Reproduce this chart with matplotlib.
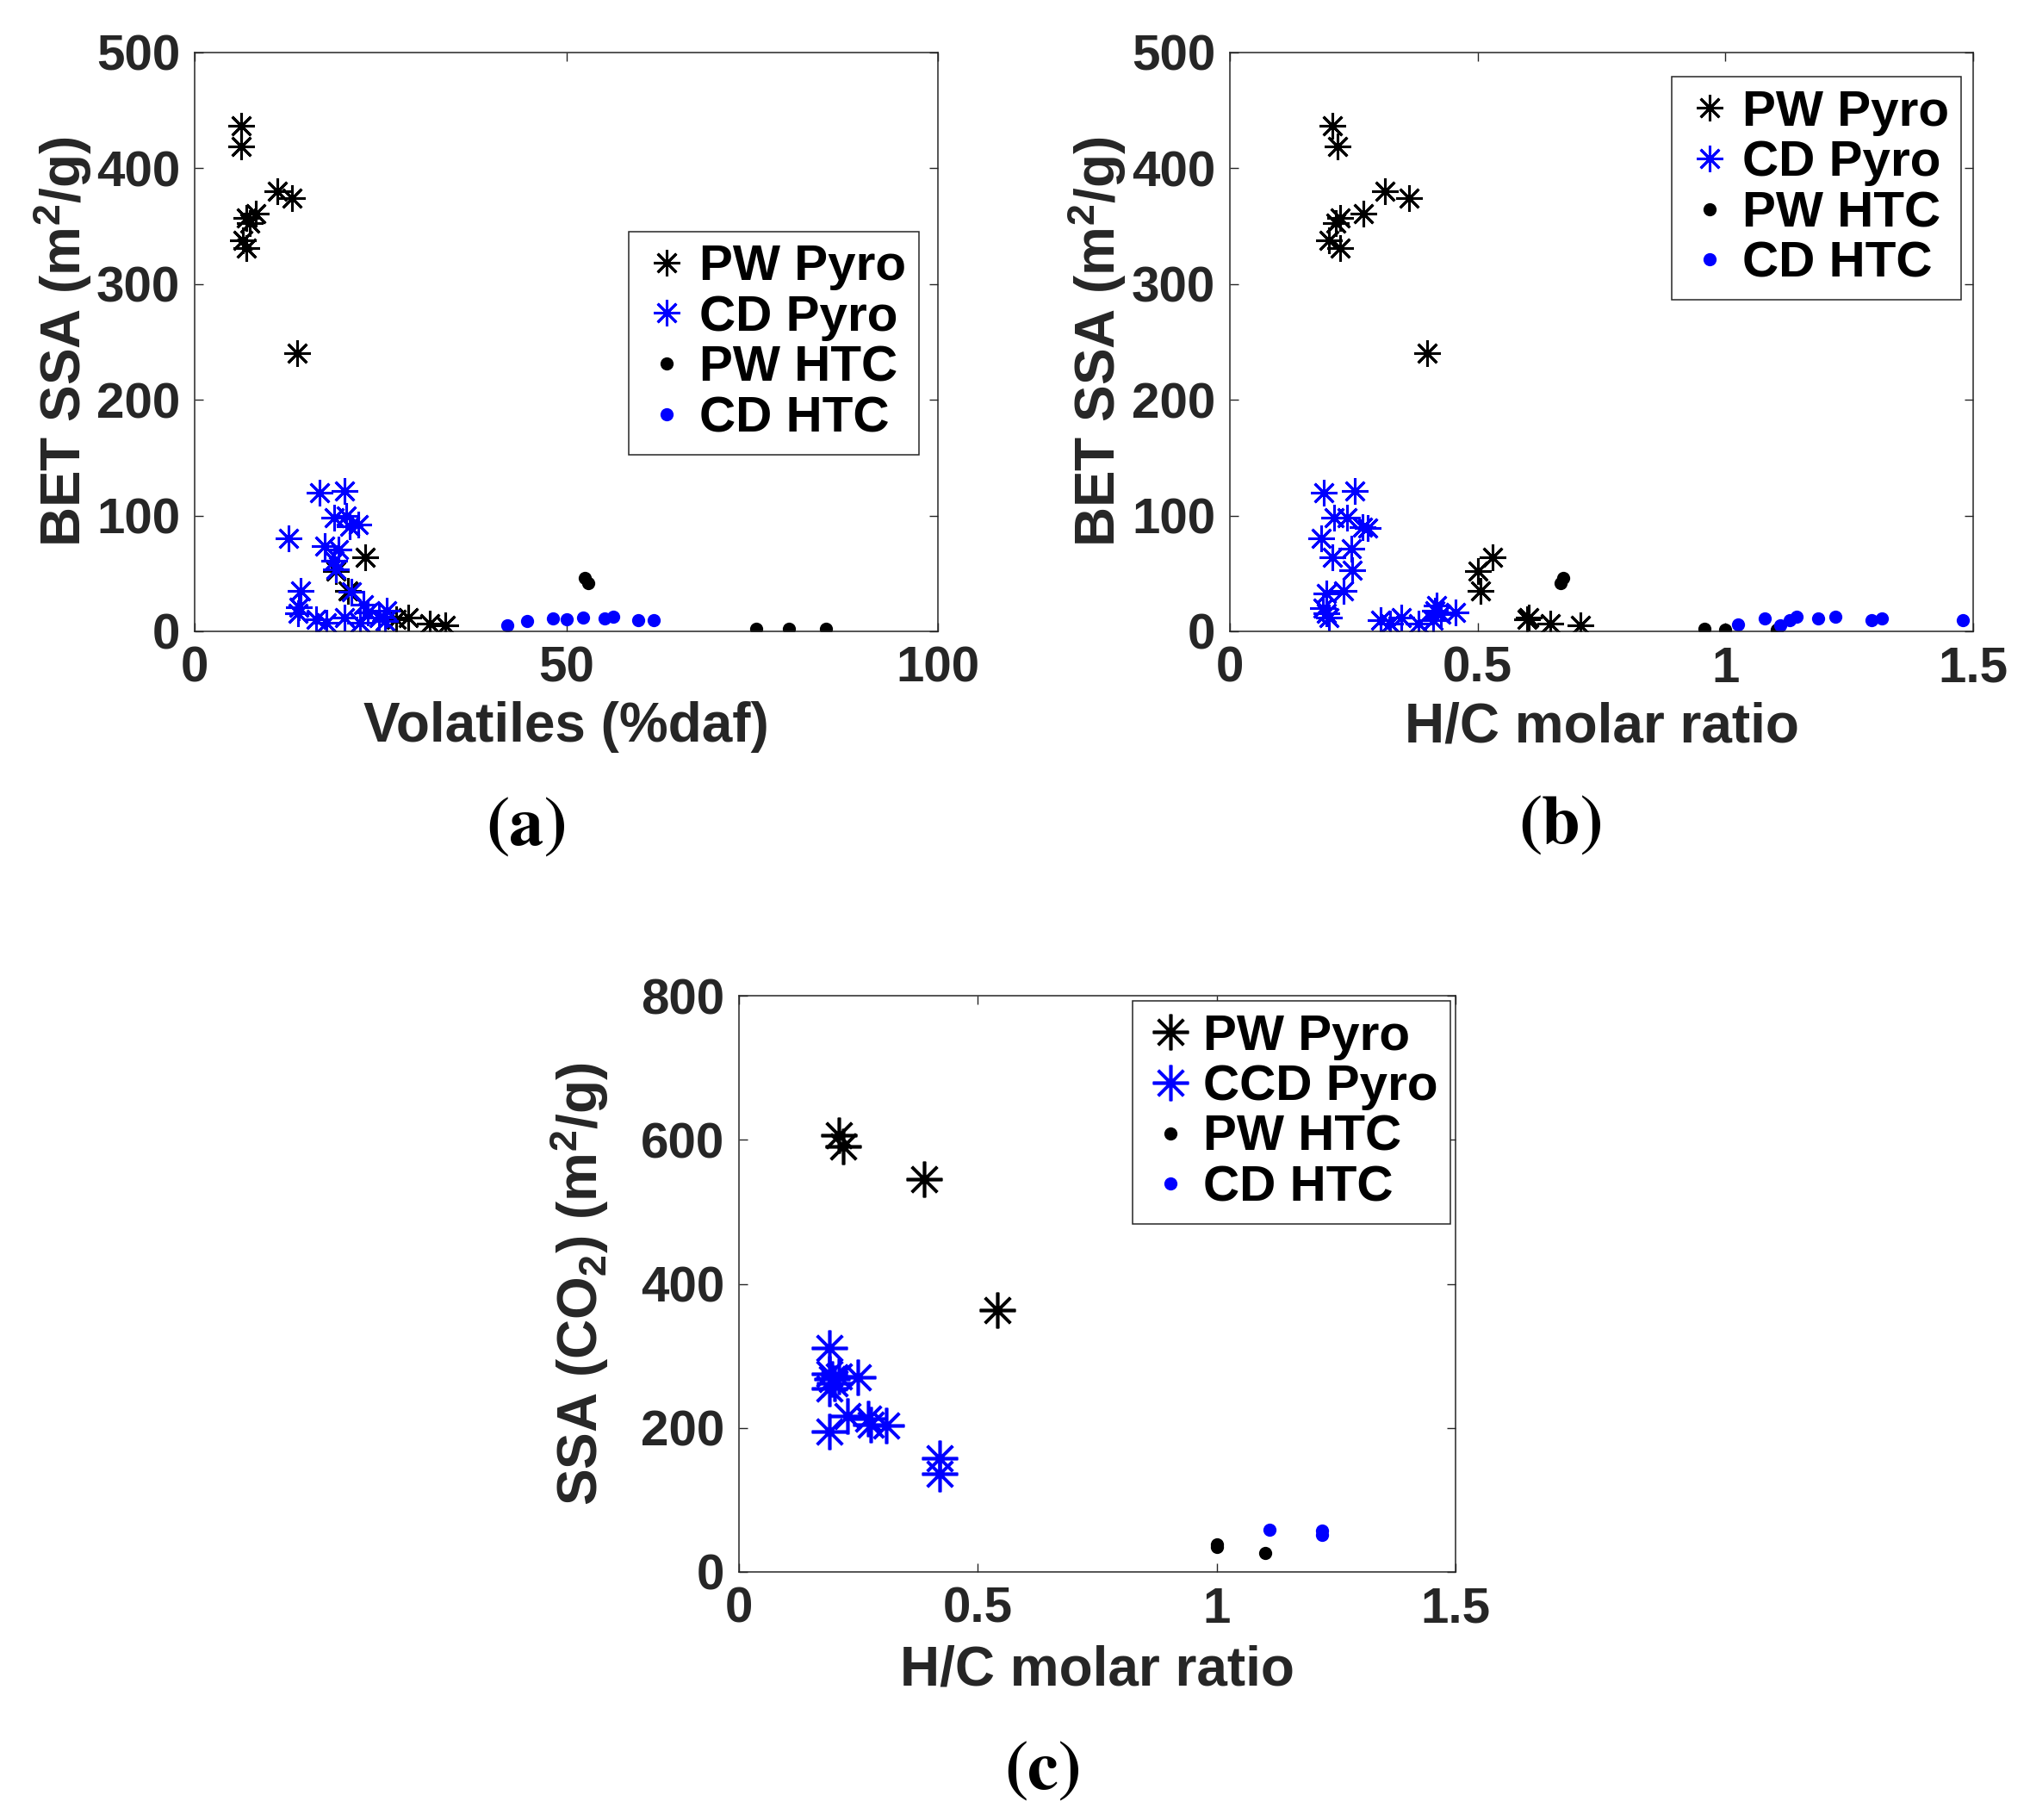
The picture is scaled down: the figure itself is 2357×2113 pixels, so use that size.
import matplotlib
matplotlib.use("Agg")
import matplotlib.pyplot as plt

plt.rcParams['font.family'] = ['Liberation Sans', 'DejaVu Sans']
plt.rcParams['font.weight'] = 'bold'
plt.rcParams['mathtext.fontset'] = 'custom'
plt.rcParams['mathtext.bf'] = 'Liberation Sans:bold'
plt.rcParams['mathtext.rm'] = 'Liberation Sans:bold'
plt.rcParams['mathtext.default'] = 'bf'

# panel (a) / (b): BET SSA
pw_pyro_ssa = [437, 419, 380, 374, 361, 357, 353, 338, 331, 240, 64, 52, 35, 10.5, 12, 7, 5.5]
pw_pyro_vol = [6.3, 6.3, 11.1, 13.1, 8.2, 7.0, 7.4, 6.5, 7.0, 13.8, 22.9, 19.0, 20.6, 27.1, 28.7, 31.6, 33.7]
pw_pyro_hc = [0.207, 0.218, 0.313, 0.362, 0.269, 0.223, 0.214, 0.200, 0.223, 0.398, 0.530, 0.500, 0.505,
              0.600, 0.603, 0.647, 0.707]

cd_pyro_vol = [16.8, 20.2, 18.8, 20.4, 20.9, 22.0, 12.6, 17.5, 19.4, 18.8, 19.0, 14.3, 14.0, 13.9, 16.3,
               17.7, 20.2, 21.1, 22.7, 22.3, 23.3, 24.8, 25.8, 25.6]
cd_pyro_ssa_a = [120, 121, 98, 100, 90.5, 92, 80, 73.5, 71, 61, 53.5, 35, 20.6, 15.7, 10.5,
                 7.4, 12, 34, 22.8, 7.4, 16.6, 12, 18, 9]
cd_pyro_hc = [0.189, 0.252, 0.211, 0.236, 0.267, 0.278, 0.185, 0.245, 0.207, 0.247, 0.229, 0.194, 0.188,
              0.194, 0.200, 0.304, 0.324, 0.346, 0.380, 0.411, 0.417, 0.414, 0.426, 0.455]
cd_pyro_ssa_b = [120, 121, 98, 98, 90, 89.5, 80, 71.7, 64, 53, 34.8, 33, 20,
                 15.4, 11.7, 10, 7, 11.7, 7, 10, 22.5, 18, 15, 16]

pw_htc_vol = [52.5, 53.0, 75.5, 79.9, 84.9]
pw_htc_ssa_a = [46, 42, 2, 2, 2]
pw_htc_hc = [0.672, 0.668, 0.958, 1.0, 1.103]
pw_htc_ssa_b = [46, 42, 2, 1.2, 1.2]

cd_htc_vol = [42.1, 44.7, 48.2, 50.0, 52.3, 55.1, 56.3, 59.7, 61.8]
cd_htc_ssa_a = [5.5, 9.2, 11.2, 10.7, 11.9, 11.2, 12.9, 9.9, 9.4]
cd_htc_hc = [1.026, 1.08, 1.11, 1.13, 1.143, 1.187, 1.222, 1.295, 1.315, 1.479]
cd_htc_ssa_b = [6.2, 11.2, 5, 10, 12.4, 11.2, 12.9, 9.5, 11.2, 10]

# panel (c): CO2 SSA
pw_pyro_hc_c = [0.210, 0.218, 0.388, 0.540]
pw_pyro_co2 = [606, 591, 545, 363]
ccd_pyro_hc_c = [0.19, 0.19, 0.195, 0.20, 0.19, 0.21, 0.248, 0.227, 0.271, 0.276, 0.308, 0.19, 0.42, 0.42]
ccd_pyro_co2 = [311, 275, 268, 262, 255, 272, 270, 216, 213, 205, 203, 195, 158, 136]
pw_htc_hc_c = [1.0, 1.0, 1.101]
pw_htc_co2 = [38, 35, 26]
cd_htc_hc_c = [1.110, 1.221, 1.221]
cd_htc_co2 = [58, 57, 52]

labels_ab = ['PW Pyro', 'CD Pyro', 'PW HTC', 'CD HTC']
labels_c = ['PW Pyro', 'CCD Pyro', 'PW HTC', 'CD HTC']

GRAY = '#262626'
STAR = (8, 2, 0)
FS = 42

W, H = 2357, 2113
fig = plt.figure(figsize=(W / 100, H / 100), dpi=100)


def px_axes(left, top, right, bottom):
    return fig.add_axes([left / W, 1 - bottom / H, (right - left) / W, (bottom - top) / H])


def draw(ax, series, star_ms, star_lw):
    for x, y, kind, color, lab in series:
        if kind == 'star':
            ax.plot(x, y, linestyle='none', marker=STAR, ms=star_ms, mew=star_lw,
                    color=color, label=lab)
        else:
            ax.plot(x, y, linestyle='none', marker='o', ms=11, mew=0,
                    color=color, label=lab)


def style(ax, xlim, xticks, xticklabels, ylim, yticks):
    ax.set_xlim(xlim)
    ax.set_ylim(ylim)
    ax.set_xticks(xticks)
    ax.set_xticklabels(xticklabels)
    ax.set_yticks(yticks)
    ax.tick_params(direction='in', length=7, width=1, colors=GRAY, labelsize=FS,
                   top=True, right=True)
    ax.tick_params(axis='y', pad=12)
    ax.tick_params(axis='x', pad=12)
    for s in ax.spines.values():
        s.set_color(GRAY)
        s.set_linewidth(1.1)


def legend(ax, labels, anchor):
    lg = ax.legend(labels=labels, loc='upper right', bbox_to_anchor=anchor, fontsize=FS,
                   frameon=True, fancybox=False, framealpha=1, edgecolor=GRAY,
                   labelspacing=0.08, borderpad=0.25, handlelength=1.0, handletextpad=0.15,
                   borderaxespad=0, numpoints=1)
    lg.get_frame().set_linewidth(1.1)
    for t in lg.get_texts():
        t.set_fontweight('bold')


# (a)
ax1 = px_axes(226, 61, 1089, 733)
draw(ax1, [(pw_pyro_vol, pw_pyro_ssa, 'star', 'black', labels_ab[0]),
           (cd_pyro_vol, cd_pyro_ssa_a, 'star', 'blue', labels_ab[1]),
           (pw_htc_vol, pw_htc_ssa_a, 'dot', 'black', labels_ab[2]),
           (cd_htc_vol, cd_htc_ssa_a, 'dot', 'blue', labels_ab[3])], 22, 2.2)
style(ax1, (0, 100), [0, 50, 100], ['0', '50', '100'], (0, 500), [0, 100, 200, 300, 400, 500])
ax1.set_xlabel('Volatiles (%daf)', fontsize=46, color=GRAY, fontweight='bold')
ax1.set_ylabel(r'BET SSA (m$^2$/g)', fontsize=46, color=GRAY, fontweight='bold')
ax1.xaxis.set_label_coords(0.5, -0.121)
ax1.yaxis.set_label_coords(-0.135, 0.5)
legend(ax1, labels_ab, (0.974, 0.691))

# (b)
ax2 = px_axes(1428, 61, 2291, 733)
draw(ax2, [(pw_pyro_hc, pw_pyro_ssa, 'star', 'black', labels_ab[0]),
           (cd_pyro_hc, cd_pyro_ssa_b, 'star', 'blue', labels_ab[1]),
           (pw_htc_hc, pw_htc_ssa_b, 'dot', 'black', labels_ab[2]),
           (cd_htc_hc, cd_htc_ssa_b, 'dot', 'blue', labels_ab[3])], 22, 2.2)
style(ax2, (0, 1.5), [0, 0.5, 1, 1.5], ['0', '0.5', '1', '1.5'], (0, 500), [0, 100, 200, 300, 400, 500])
ax2.set_xlabel('H/C molar ratio', fontsize=46, color=GRAY, fontweight='bold')
ax2.set_ylabel(r'BET SSA (m$^2$/g)', fontsize=46, color=GRAY, fontweight='bold')
ax2.xaxis.set_label_coords(0.5, -0.121)
ax2.yaxis.set_label_coords(-0.137, 0.5)
legend(ax2, labels_ab, (0.984, 0.958))

# (c)
ax3 = px_axes(858, 1156, 1690, 1825)
draw(ax3, [(pw_pyro_hc_c, pw_pyro_co2, 'star', 'black', labels_c[0]),
           (ccd_pyro_hc_c, ccd_pyro_co2, 'star', 'blue', labels_c[1]),
           (pw_htc_hc_c, pw_htc_co2, 'dot', 'black', labels_c[2]),
           (cd_htc_hc_c, cd_htc_co2, 'dot', 'blue', labels_c[3])], 30, 2.6)
style(ax3, (0, 1.5), [0, 0.5, 1, 1.5], ['0', '0.5', '1', '1.5'], (0, 800), [0, 200, 400, 600, 800])
ax3.set_xlabel('H/C molar ratio', fontsize=46, color=GRAY, fontweight='bold')
ax3.set_ylabel(r'SSA (CO$_2$) (m$^2$/g)', fontsize=46, color=GRAY, fontweight='bold')
ax3.xaxis.set_label_coords(0.5, -0.126)
ax3.yaxis.set_label_coords(-0.179, 0.5)
legend(ax3, labels_c, (0.993, 0.991))

# captions
for cx, cy, letter in [(610, 960, 'a'), (1811, 958, 'b'), (1210, 2056, 'c')]:
    fig.text(cx / W, 1 - cy / H, r'$(\mathbf{%s})$' % letter, fontsize=58, ha='center', va='center',
             color='black', math_fontfamily='stix')

fig.savefig('out.png', dpi=100)
